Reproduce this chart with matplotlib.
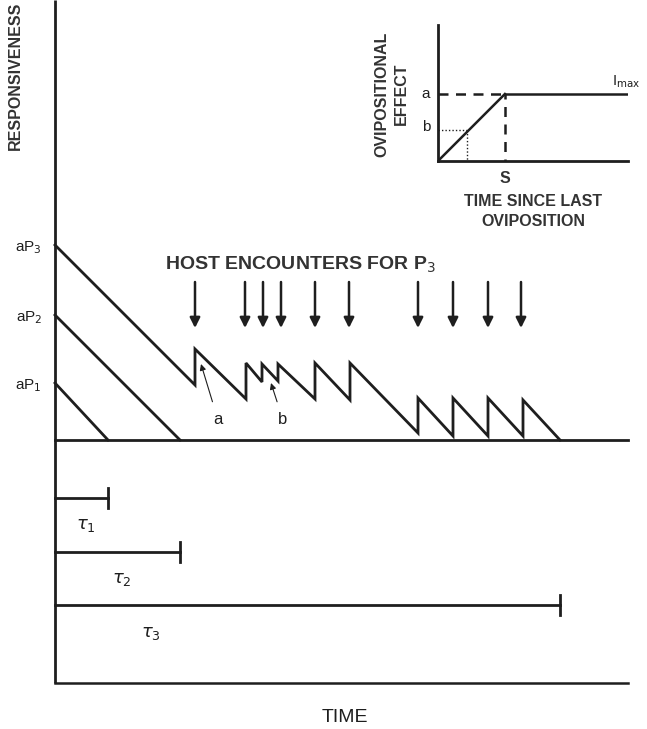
import matplotlib
matplotlib.use("Agg")
import matplotlib.pyplot as plt
import numpy as np

plt.rcParams['font.family'] = ['Liberation Sans', 'DejaVu Sans']

INK = '#1e1e1e'

# responsiveness at start (aP1, aP2, aP3) and when it runs out (tau1..tau3)
start_resp = [57, 125, 195]
tau = [53, 125, 505]
p_labels = ['aP$_1$', 'aP$_2$', 'aP$_3$']
tau_labels = [r'$\tau_1$', r'$\tau_2$', r'$\tau_3$']

# host encounters for P3: time, responsiveness just before and just after
enc_time = [140, 191, 207, 223, 260, 295, 363, 398, 433, 468]
resp_before = [55, 41, 58, 59, 41, 40, 7, 4, 4, 4]
resp_after = [91, 77, 76, 76, 77, 77, 42, 42, 42, 40]
arrow_time = [140, 190, 208, 226, 260, 294, 363, 398, 433, 466]

# inset: ovipositional effect vs time since last oviposition
s_val = 1.0
a_val = 1.0
b_time, b_val = 0.44, 0.46
inset_tmax = 2.84

fig = plt.figure(figsize=(6.47, 7.29), dpi=100)
ax = fig.add_axes([0, 0, 1, 1])
ax.set_xlim(-55, 592)
ax.set_ylim(-289, 440)
ax.axis('off')

lw = 2.0
# frame + baseline
ax.plot([0, 0], [440, -243], color=INK, lw=lw, solid_capstyle='butt')
ax.plot([0, 573], [-243, -243], color=INK, lw=1.8)
ax.plot([0, 573], [0, 0], color=INK, lw=lw)
ax.text(-40, 438, 'RESPONSIVENESS', rotation=90, ha='center', va='top',
        fontsize=11.5, fontweight='bold', color='#333333')
ax.text(290, -278, 'TIME', ha='center', va='center', fontsize=14, color=INK)

# P1 and P2 decays
for r0, t_end in zip(start_resp[:2], tau[:2]):
    ax.plot([0, t_end], [r0, 0], color=INK, lw=lw)

# P3 sawtooth
xs, ys = [0], [start_resp[2]]
for t, lo, hi in zip(enc_time, resp_before, resp_after):
    xs += [t, t]
    ys += [lo, hi]
xs.append(tau[2])
ys.append(0)
ax.plot(xs, ys, color=INK, lw=lw, solid_joinstyle='miter')

for r0, lab in zip(start_resp, p_labels):
    ax.text(-13, r0 - 3, lab, ha='right', va='center', fontsize=11, color=INK)

# encounter arrows
for t in arrow_time:
    ax.annotate('', xy=(t, 112), xytext=(t, 158),
                arrowprops=dict(arrowstyle='-|>', color=INK, lw=1.8,
                                mutation_scale=15, shrinkA=0, shrinkB=0))
ax.text(245, 175, 'HOST ENCOUNTERS FOR P$_3$', ha='center', va='center',
        fontsize=14, fontweight='bold', color='#333333')

# a / b pointers
ax.annotate('a', xy=(146, 76), xytext=(163, 20), ha='center', va='center',
            fontsize=12, color=INK,
            arrowprops=dict(arrowstyle='-|>', color=INK, lw=0.8,
                            mutation_scale=9, shrinkA=6, shrinkB=0))
ax.annotate('b', xy=(216, 57), xytext=(228, 20), ha='center', va='center',
            fontsize=12, color=INK,
            arrowprops=dict(arrowstyle='-|>', color=INK, lw=0.8,
                            mutation_scale=9, shrinkA=6, shrinkB=0))

# tau bars
tau_y = [-58, -112, -165]
for t_end, ty in zip(tau, tau_y):
    ax.plot([0, t_end], [ty, ty], color=INK, lw=lw)
    ax.plot([t_end, t_end], [ty - 10, ty + 10], color=INK, lw=lw)
tau_lab_x = [31, 67, 96]
for lx, ty, lab in zip(tau_lab_x, tau_y, tau_labels):
    ax.text(lx, ty - 28, lab, ha='center', va='center', fontsize=13, color=INK)

# inset
ins = fig.add_axes([438 / 647, 1 - 161 / 729, 190 / 647, 136 / 729])
ins.set_xlim(0, inset_tmax)
ins.set_ylim(0, 2.03)
ins.axis('off')
ins.plot([0, 0], [0, 2.03], color=INK, lw=lw, clip_on=False)
ins.plot([0, inset_tmax], [0, 0], color=INK, lw=lw, clip_on=False)
ins.plot([0, s_val], [0, a_val], color=INK, lw=1.8)
ins.plot([s_val, inset_tmax], [a_val, a_val], color=INK, lw=1.8)
ins.plot([0, s_val], [a_val, a_val], color=INK, lw=1.8, ls=(0, (4, 3)))
ins.plot([s_val, s_val], [a_val, 0], color=INK, lw=1.8, ls=(2, (4, 3)))
ins.plot([0, b_time], [b_val, b_val], color=INK, lw=1.0, ls=(0, (1, 1.5)))
ins.plot([b_time, b_time], [b_val, 0], color=INK, lw=1.0, ls=(0, (1, 1.5)))

ins.text(-0.12, a_val, 'a', ha='right', va='center', fontsize=11, color=INK,
         clip_on=False)
ins.text(-0.12, b_val + 0.05, 'b', ha='right', va='center', fontsize=11,
         color=INK, clip_on=False)
ins.text(inset_tmax + 0.18, a_val + 0.06, 'I$_{\\mathrm{max}}$', ha='right',
         va='bottom', fontsize=10.5, color=INK, clip_on=False)

small = dict(fontsize=11.5, fontweight='bold', color='#333333', clip_on=False)
ins.text(s_val, -0.26, 'S', ha='center', va='center', **small)
ins.text(1.42, -0.61, 'TIME SINCE LAST', ha='center', va='center', **small)
ins.text(1.42, -0.91, 'OVIPOSITION', ha='center', va='center', **small)
ins.text(-0.84, 1.0, 'OVIPOSITIONAL', rotation=90, ha='center', va='center',
         **small)
ins.text(-0.54, 1.0, 'EFFECT', rotation=90, ha='center', va='center', **small)

fig.savefig('out.png', dpi=100)
